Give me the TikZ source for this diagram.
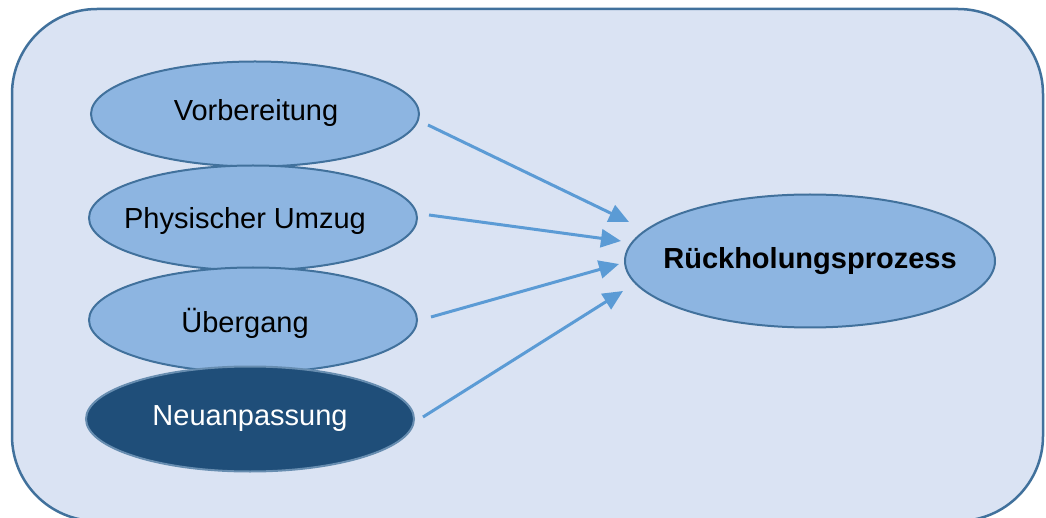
\documentclass[tikz,border=0pt]{standalone}
\usepackage{fontspec}
\setmainfont{Liberation Sans}
\usetikzlibrary{shapes.geometric,arrows.meta}
\definecolor{bgfill}{HTML}{DAE3F3}
\definecolor{bgline}{HTML}{41719C}
\definecolor{elfill}{HTML}{8DB5E1}
\definecolor{eldark}{HTML}{1F4E79}
\definecolor{arrowc}{HTML}{5B9BD5}
\tikzset{
  phase/.style={ellipse, draw=bgline, line width=2pt, fill=elfill, minimum width=328pt, minimum height=105pt, inner sep=0pt},
  darkphase/.style={phase, fill=eldark, draw=bgline!80!white},
  goal/.style={phase, minimum width=370pt, minimum height=133pt},
  label/.style={inner sep=0pt, font=\fontsize{29}{34}\selectfont},
  link/.style={draw=arrowc, line width=3pt, -{Triangle[length=20pt,width=18pt]}}
}
\begin{document}
\begin{tikzpicture}[x=1pt,y=-1pt]
\useasboundingbox (0,0) rectangle (1046,518);
\draw[fill=bgfill, draw=bgline, line width=2.5pt, rounded corners=85pt] (12,9) rectangle (1043,521);
\node[phase] (v) at (255,114) {};
\node[label] (vt) at ([shift={(1,-1)}]v.center) {Vorbereitung};
\node[phase] (p) at (253,218) {};
\node[label] (pt) at ([shift={(-8,3)}]p.center) {Physischer Umzug};
\node[phase] (u) at (253,320) {};
\node[label] (ut) at ([shift={(-8,3)}]u.center) {Übergang};
\node[darkphase] (n) at (250,419) {};
\node[label, text=white] (nt) at (n) {Neuanpassung};
\node[goal] (r) at (810,261) {};
\node[label, font=\fontsize{29}{34}\selectfont\bfseries] (rt) at (r) {Rückholungsprozess};
\draw[link] ([shift={(8,11)}]v.east) -- ([shift={(5,-39)}]r.west);
\draw[link] ([shift={(11,-3)}]p.east) -- ([shift={(-3,-20)}]r.west);
\draw[link] ([shift={(13,-3)}]u.east) -- ([shift={(-5,3)}]r.west);
\draw[link] ([shift={(8,-2)}]n.east) -- ([shift={(-1,30)}]r.west);
\end{tikzpicture}
\end{document}
